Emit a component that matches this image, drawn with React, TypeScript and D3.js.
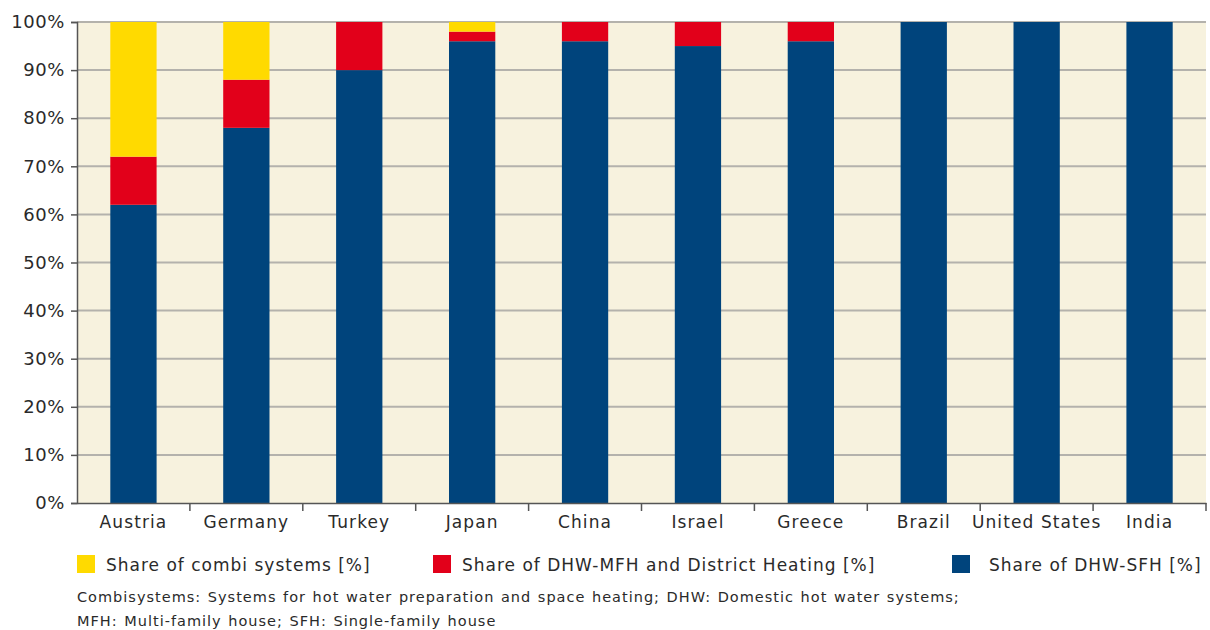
import { useEffect, useRef } from 'react';
import * as d3 from 'd3';

const countries = ['Austria', 'Germany', 'Turkey', 'Japan', 'China', 'Israel', 'Greece', 'Brazil', 'United States', 'India'];
const sfh = [62, 78, 90, 96, 96, 95, 96, 100, 100, 100];
const mfh = [10, 10, 10, 2, 4, 5, 4, 0, 0, 0];
const combi = [28, 12, 0, 2, 0, 0, 0, 0, 0, 0];
const yTicks = [0, 10, 20, 30, 40, 50, 60, 70, 80, 90, 100];
const seriesNames = [
  'Share of DHW-SFH [%]',
  'Share of DHW-MFH and District Heating [%]',
  'Share of combi systems [%]',
];
const seriesColors = ['#00447C', '#E2001A', '#FFDA00'];
const notes = [
  'Combisystems: Systems for hot water preparation and space heating; DHW: Domestic hot water systems;',
  'MFH: Multi-family house; SFH: Single-family house',
];

const App: React.FC = () => {
  const svgRef = useRef<SVGSVGElement | null>(null);

  useEffect(() => {
    if (svgRef.current === null) return;
    const W = 1210;
    const H = 630;
    const margin = { top: 22, right: 4, bottom: 127, left: 77 };
    const width = W - margin.left - margin.right;
    const height = H - margin.top - margin.bottom;
    const font = "'DejaVu Sans', 'Noto Sans', sans-serif";
    const textColor = '#2a2a2a';

    const root = d3.select(svgRef.current);
    root.selectAll('*').remove();
    root.attr('width', W).attr('height', H);

    const svg = root.append('g').attr('transform', `translate(${margin.left},${margin.top})`);

    const x = d3.scaleBand<string>().domain(countries).range([0, width]).paddingInner(0.59).paddingOuter(0.295);
    const xAxisScale = d3.scaleBand<string>().domain(countries).range([0, width]).padding(0);
    const y = d3.scaleLinear().domain([0, 100]).range([height, 0]);

    // plot background
    svg.append('rect').attr('width', width).attr('height', height).attr('fill', '#F7F2DE');

    // gridlines
    svg
      .selectAll('.grid')
      .data(yTicks.filter((t) => t > 0))
      .enter()
      .append('line')
      .attr('x1', 0)
      .attr('x2', width)
      .attr('y1', (d) => y(d))
      .attr('y2', (d) => y(d))
      .attr('stroke', '#B4B2AC')
      .attr('stroke-width', 2);

    // stacked bars
    const rows = countries.map((c, i) => ({ country: c, sfh: sfh[i], mfh: mfh[i], combi: combi[i] }));
    const stack = d3.stack<(typeof rows)[number]>().keys(['sfh', 'mfh', 'combi']);
    const layers = stack(rows);

    layers.forEach((layer, li) => {
      svg
        .append('g')
        .selectAll('rect')
        .data(layer)
        .enter()
        .append('rect')
        .attr('x', (d) => x(d.data.country) ?? 0)
        .attr('width', x.bandwidth())
        .attr('y', (d) => y(d[1]))
        .attr('height', (d) => y(d[0]) - y(d[1]))
        .attr('fill', seriesColors[li]);
    });

    // y axis
    const yAxis = svg
      .append('g')
      .call(
        d3
          .axisLeft(y)
          .tickValues(yTicks)
          .tickSize(6)
          .tickPadding(6)
          .tickFormat((d) => `${d}%`),
      );
    yAxis.select('.domain').attr('stroke', '#555').attr('stroke-width', 1.5);
    yAxis.selectAll('.tick line').attr('stroke', '#555').attr('stroke-width', 1.5);
    yAxis
      .selectAll('.tick text')
      .style('font-family', font)
      .style('font-size', '18px')
      .style('letter-spacing', '0.6px')
      .attr('fill', textColor);

    // x axis
    const xAxis = svg
      .append('g')
      .attr('transform', `translate(0,${height})`)
      .call(d3.axisBottom(xAxisScale).tickSize(0).tickPadding(13));
    xAxis.select('.domain').attr('stroke', '#555').attr('stroke-width', 1.5);
    xAxis
      .selectAll('.tick text')
      .style('font-family', font)
      .style('font-size', '17px')
      .style('letter-spacing', '1.1px')
      .attr('fill', textColor);

    svg
      .append('g')
      .selectAll('line')
      .data(countries.map((c) => (xAxisScale(c) ?? 0) + xAxisScale.bandwidth()))
      .enter()
      .append('line')
      .attr('x1', (d) => d)
      .attr('x2', (d) => d)
      .attr('y1', height)
      .attr('y2', height + 8)
      .attr('stroke', '#555')
      .attr('stroke-width', 1.5);

    // legend
    const legendItems = [
      { name: seriesNames[2], color: seriesColors[2], x: 0, tx: 29 },
      { name: seriesNames[1], color: seriesColors[1], x: 356, tx: 29 },
      { name: seriesNames[0], color: seriesColors[0], x: 875, tx: 37 },
    ];
    const legend = root.append('g').attr('transform', `translate(${margin.left},555)`);
    const li = legend
      .selectAll('g')
      .data(legendItems)
      .enter()
      .append('g')
      .attr('transform', (d) => `translate(${d.x},0)`);
    li.append('rect').attr('width', 18).attr('height', 18).attr('fill', (d) => d.color);
    li.append('text')
      .attr('x', (d) => d.tx)
      .attr('y', 16)
      .style('font-family', font)
      .style('font-size', '17px')
      .style('letter-spacing', '1px')
      .attr('fill', textColor)
      .text((d) => d.name);

    // notes
    root
      .append('g')
      .selectAll('text')
      .data(notes)
      .enter()
      .append('text')
      .attr('x', margin.left)
      .attr('y', (_, i) => 602 + i * 24)
      .style('font-family', font)
      .style('font-size', '14.5px')
      .style('letter-spacing', '1px')
      .style('word-spacing', '1px')
      .attr('fill', textColor)
      .text((d) => d);
  }, []);

  return (
    <div style={{ position: 'absolute', left: 0, top: 0 }}>
      <svg ref={svgRef}></svg>
    </div>
  );
};

export default App;
